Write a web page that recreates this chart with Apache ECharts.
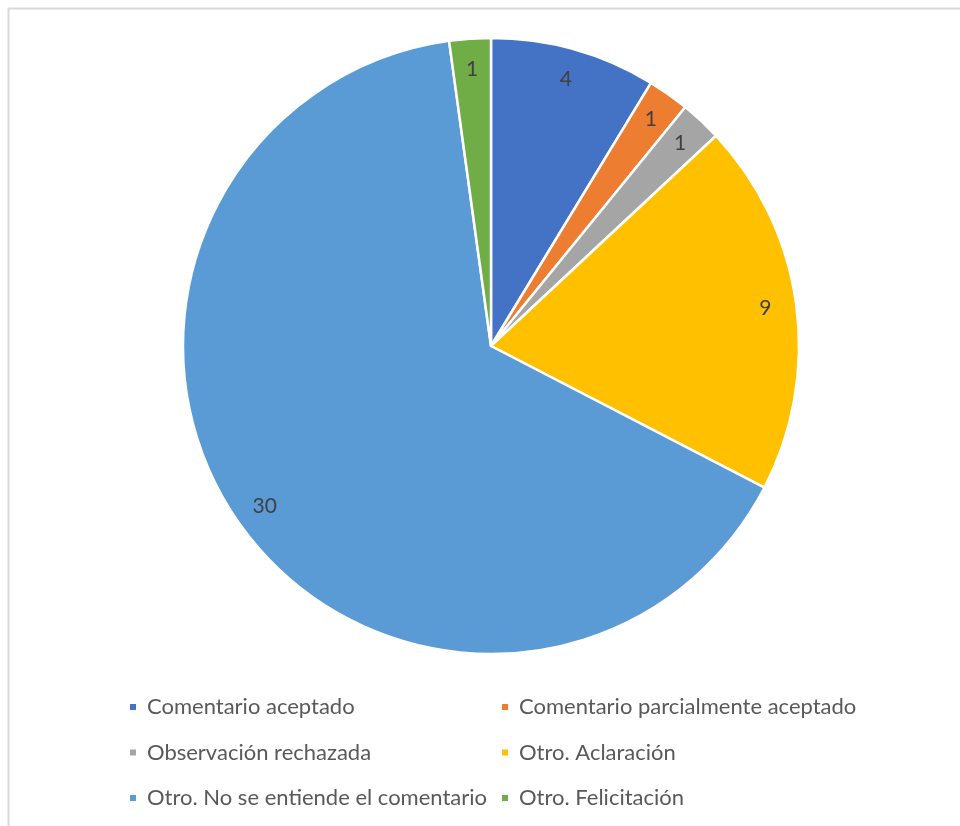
<!DOCTYPE html>
<html><head><meta charset="utf-8">
<script src="https://cdn.jsdelivr.net/npm/echarts@6/dist/echarts.min.js"></script>
<style>html,body{margin:0;padding:0;background:#fff}#c{width:960px;height:826px}</style>
</head><body><div id="c"></div>
<script>
const categories = ["Comentario aceptado","Comentario parcialmente aceptado","Observación rechazada","Otro. Aclaración","Otro. No se entiende el comentario","Otro. Felicitación"];
const values = [4,1,1,9,30,1];
const colors = ["#4472C4","#ED7D31","#A5A5A5","#FFC000","#5B9BD5","#70AD47"];

const data = categories.map((n,i)=>({name:n,value:values[i],itemStyle:{color:colors[i]}}));
const font = "Lato, 'Open Sans', sans-serif";
const chart = echarts.init(document.getElementById('c'));
const legendCommon = {
  orient:'vertical', itemWidth:8, itemHeight:8, icon:'rect', itemGap:23.5, padding:0,
  textStyle:{fontFamily:font, fontSize:22, color:'#595959', padding:[0,0,0,5]},
  selectedMode:false
};
chart.setOption({
  animation:false,
  graphic:[{type:'rect', shape:{x:8.5,y:8.5,width:1000,height:900}, style:{fill:null,stroke:'#d9d9d9',lineWidth:2}, silent:true}],
  legend:[
    Object.assign({left:128, top:696, data:[categories[0],categories[2],categories[4]]}, legendCommon),
    Object.assign({left:500, top:696, data:[categories[1],categories[3],categories[5]]}, legendCommon)
  ],
  series:[
    {type:'pie', center:[491,346], radius:[0,308], startAngle:90, clockwise:true,
     data:data, label:{show:false}, labelLine:{show:false},
     itemStyle:{borderColor:'#fff', borderWidth:2.5}, emphasis:{disabled:true}, silent:true},
    {type:'pie', center:[491,346], radius:[240,308], startAngle:90, clockwise:true,
     data:data.map(d=>({name:d.name,value:d.value,itemStyle:{color:'rgba(0,0,0,0)'}})),
     label:{show:true, position:'inside', formatter:'{c}', fontFamily:font, fontSize:21, color:'#404040'},
     labelLine:{show:false}, itemStyle:{borderWidth:0}, emphasis:{disabled:true}, silent:true}
  ]
});
</script></body></html>
